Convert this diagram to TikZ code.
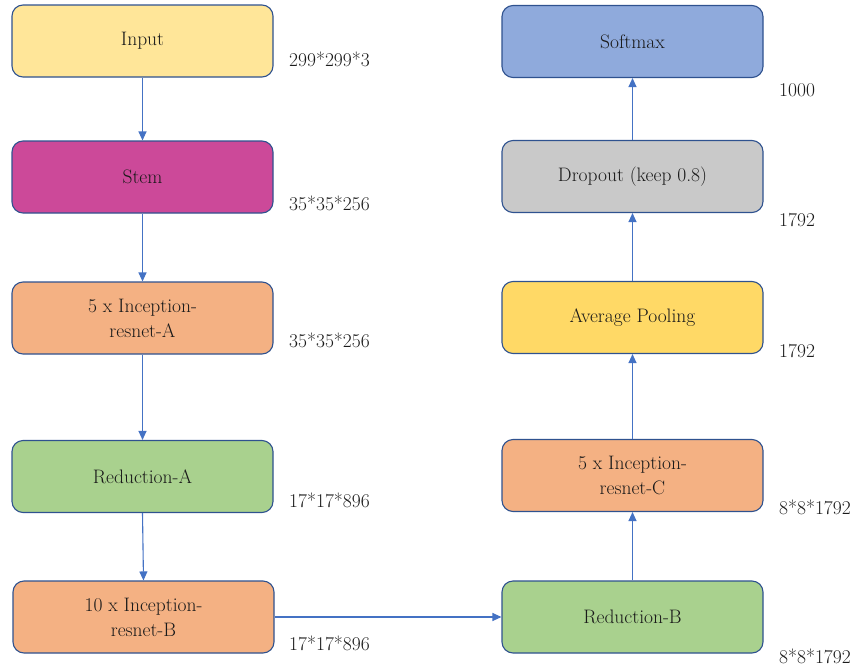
\documentclass[tikz,border=0pt]{standalone}
\usetikzlibrary{arrows.meta}
\definecolor{bordc}{HTML}{2F528F}
\definecolor{arrc}{HTML}{4472C4}
\definecolor{txtc}{HTML}{1A1A1A}
\definecolor{cinput}{HTML}{FFE699}
\definecolor{cstem}{HTML}{CC4999}
\definecolor{corange}{HTML}{F4B183}
\definecolor{cgreen}{HTML}{A9D18E}
\definecolor{csoft}{HTML}{8FAADC}
\definecolor{cgray}{HTML}{C9C9C9}
\definecolor{cavg}{HTML}{FFD966}
\begin{document}
\begin{tikzpicture}[x=1pt,y=-1pt,
  box/.style={draw=bordc, line width=1.1pt, rounded corners=11pt,
    minimum width=261pt, minimum height=72pt, inner sep=0pt, align=center,
    font=\fontsize{19.5}{25}\selectfont, text=txtc},
  dim/.style={anchor=west, inner sep=0pt, font=\fontsize{19.5}{25}\selectfont, text=txtc},
  conn/.style={draw=arrc, line width=1.1pt, -{Triangle[length=9pt,width=8pt]}}]
\useasboundingbox (0,0) rectangle (860,667);
% left column
\node[box, fill=cinput] (input) at (142.5,41) {Input};
\node[box, fill=cstem] (stem) at (142.5,177) {Stem};
\node[box, fill=corange] (ia) at (142.5,318) {5 x Inception-\\resnet-A};
\node[box, fill=cgreen] (ra) at (142.5,476.5) {Reduction-A};
\node[box, fill=corange] (ib) at (143.5,617) {10 x Inception-\\resnet-B};
% right column
\node[box, fill=csoft] (soft) at (632.5,41.5) {Softmax};
\node[box, fill=cgray] (drop) at (632.5,176.5) {Dropout (keep 0.8)};
\node[box, fill=cavg] (avg) at (632.5,317.5) {Average Pooling};
\node[box, fill=corange] (ic) at (632.5,475.5) {5 x Inception-\\resnet-C};
\node[box, fill=cgreen] (rb) at (632.5,617) {Reduction-B};
% dimension labels
\node[dim] (d1) at (289,59) {299*299*3};
\node[dim] (d2) at (289,203.5) {35*35*256};
\node[dim] (d3) at (289,340) {35*35*256};
\node[dim] (d4) at (289,500) {17*17*896};
\node[dim] (d5) at (289,643.5) {17*17*896};
\node[dim] (d6) at (779,90.5) {1000};
\node[dim] (d7) at (779,220) {1792};
\node[dim] (d8) at (779,351.5) {1792};
\node[dim] (d9) at (779,507) {8*8*1792};
\node[dim] (d10) at (779,656.5) {8*8*1792};
% connectors
\draw[conn] (input) -- (stem);
\draw[conn] (stem) -- (ia);
\draw[conn] (ia) -- (ra);
\draw[conn] (ra.south) -- (ib.north);
\draw[conn] (ib) -- (rb);
\draw[conn] (rb) -- (ic);
\draw[conn] (ic) -- (avg);
\draw[conn] (avg) -- (drop);
\draw[conn] (drop) -- (soft);
\end{tikzpicture}
\end{document}
